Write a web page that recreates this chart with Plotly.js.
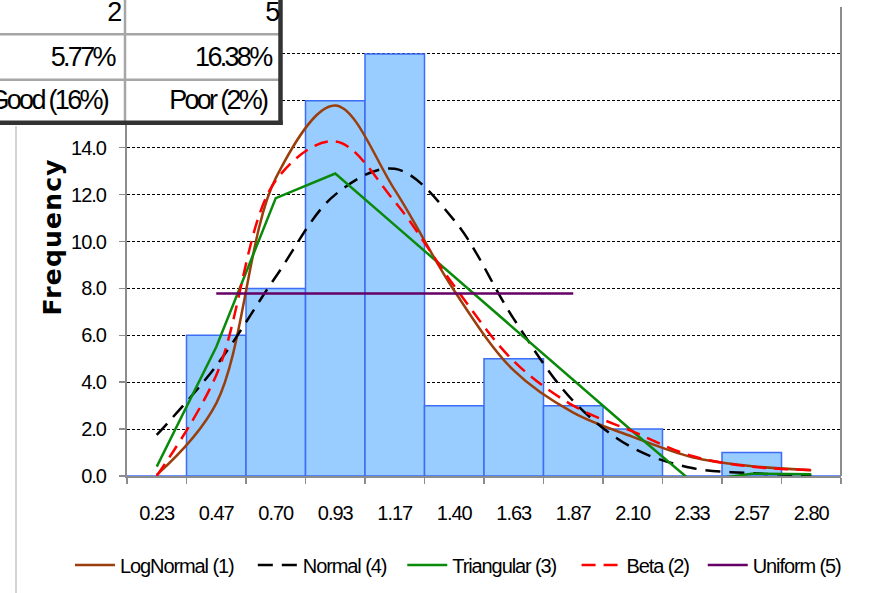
<!DOCTYPE html>
<html>
<head>
<meta charset="utf-8">
<script src="https://cdn.plot.ly/plotly-3.0.1.min.js"></script>
<style>
  html, body { margin: 0; padding: 0; background: #fff; }
  #chart { width: 888px; height: 593px; }
  #chart .xtick text, #chart .ytick text { letter-spacing: -1px; }
  #chart .legendtext { letter-spacing: -1.1px; }
  #chart .annotation text.annotation-text { letter-spacing: -2.7px; }
  #chart .annotation[data-index="0"] text.annotation-text { letter-spacing: 1.2px; }
</style>
</head>
<body>
<div id="chart"></div>
<script>
// ---- data ----
var categories = ['0.23','0.47','0.70','0.93','1.17','1.40','1.63','1.87','2.10','2.33','2.57','2.80'];
var frequency  = [0, 6, 8, 16, 18, 3, 5, 3, 2, 0, 1, 0];
var logNormal  = [0.05, 3.1, 12.7, 15.8, 12.2, 7.9, 4.5, 2.7, 1.67, 0.8, 0.42, 0.25];
var normal     = [1.75, 4.7, 8.5, 12.0, 13.1, 10.9, 6.7, 3.2, 1.2, 0.34, 0.12, 0.03];
var triangular = [0.4, 5.5, 11.85, 12.9, 10.7, 8.5, 6.3, 4.1, 1.9, -0.25, 0.1, 0.07];
var beta       = [0.0, 4.3, 12.6, 14.27, 11.7, 8.1, 4.9, 3.0, 1.9, 0.85, 0.4, 0.25];
var uniform    = [null, 7.78, 7.78, 7.78, 7.78, 7.78, 7.78, 7.78, null, null, null, null];

var seriesNames = ['LogNormal (1)', 'Normal (4)', 'Triangular (3)', 'Beta (2)', 'Uniform (5)'];
var tableRows = [['2', '5'], ['5.77%', '16.38%'], ['Good (16%)', 'Poor (2%)']];
var yTitle = 'Frequency';

// ---- layout helpers (pixel -> paper) ----
var W = 888, H = 593;
var mL = 127, mR = 47, mT = 7, mB = 117;
var pw = W - mL - mR, ph = H - mT - mB;
function px(x) { return (x - mL) / pw; }
function py(y) { return (H - mB - y) / ph; }

var sans = '"Liberation Sans", Arial, sans-serif';

var traces = [
  {type: 'bar', x: categories, y: frequency, showlegend: false,
   marker: {color: '#99CCFF', line: {color: '#3D6CF5', width: 1.5}}, hoverinfo: 'skip'},
  {type: 'scatter', mode: 'lines', x: categories, y: logNormal, name: seriesNames[0],
   line: {color: '#9A3F0C', width: 2.5, shape: 'spline', smoothing: 1}},
  {type: 'scatter', mode: 'lines', x: categories, y: normal, name: seriesNames[1],
   line: {color: '#000000', width: 2.5, shape: 'spline', smoothing: 1, dash: '15px,9px'}},
  {type: 'scatter', mode: 'lines', x: categories, y: triangular, name: seriesNames[2],
   line: {color: '#0A8A0A', width: 2.5}},
  {type: 'scatter', mode: 'lines', x: categories, y: beta, name: seriesNames[3],
   line: {color: '#FF0000', width: 2.5, shape: 'spline', smoothing: 1, dash: '14px,8px'}},
  {type: 'scatter', mode: 'lines', x: categories, y: uniform, name: seriesNames[4],
   line: {color: '#660066', width: 2.5}}
];

var shapes = [
  {type: 'line', xref: 'paper', yref: 'paper', x0: 1, x1: 1, y0: 0, y1: 1,
   line: {color: '#8c8c8c', width: 2}},
  {type: 'line', xref: 'paper', yref: 'paper', x0: px(16), x1: px(16), y0: py(126), y1: py(600),
   line: {color: '#c4c4c4', width: 1.5}},
  {type: 'rect', xref: 'paper', yref: 'paper', layer: 'above',
   x0: px(-10), x1: px(280), y0: py(122), y1: py(-10),
   fillcolor: '#ffffff', line: {width: 0}},
  {type: 'line', xref: 'paper', yref: 'paper', layer: 'above',
   x0: px(-5), x1: px(279), y0: py(34.3), y1: py(34.3), line: {color: '#a6a6a6', width: 2.5}},
  {type: 'line', xref: 'paper', yref: 'paper', layer: 'above',
   x0: px(-5), x1: px(279), y0: py(79.7), y1: py(79.7), line: {color: '#a6a6a6', width: 2.5}},
  {type: 'line', xref: 'paper', yref: 'paper', layer: 'above',
   x0: px(125), x1: px(125), y0: py(-5), y1: py(121), line: {color: '#a6a6a6', width: 2.5}},
  {type: 'line', xref: 'paper', yref: 'paper', layer: 'above',
   x0: px(280.5), x1: px(280.5), y0: py(-5), y1: py(125), line: {color: '#333333', width: 4.5}},
  {type: 'line', xref: 'paper', yref: 'paper', layer: 'above',
   x0: px(-5), x1: px(282.7), y0: py(122.8), y1: py(122.8), line: {color: '#333333', width: 4.5}}
];

var annotations = [
  {xref: 'paper', yref: 'paper', x: px(52), y: py(237), text: yTitle, textangle: -90,
   showarrow: false, xanchor: 'center', yanchor: 'middle',
   font: {family: '"DejaVu Sans", Verdana, sans-serif', size: 25, color: '#000', weight: 'bold'}}
];
var cellRight = [123, 281];
var cellMid = [10, 55, 98];
for (var r = 0; r < tableRows.length; r++) {
  for (var c = 0; c < 2; c++) {
    annotations.push({xref: 'paper', yref: 'paper', x: px(cellRight[c]), y: py(cellMid[r] + 2),
      text: tableRows[r][c], showarrow: false, xanchor: 'right', yanchor: 'middle',
      font: {family: sans, size: 27, color: '#000'}});
  }
}

var layout = {
  width: W, height: H,
  margin: {l: mL, r: mR, t: mT, b: mB, pad: 0, autoexpand: false},
  paper_bgcolor: '#ffffff', plot_bgcolor: '#ffffff',
  bargap: 0,
  showlegend: true,
  legend: {orientation: 'h', x: px(70), y: py(565), xanchor: 'left', yanchor: 'middle',
           itemwidth: 40,
           font: {family: sans, size: 20, color: '#000'}, bgcolor: 'rgba(0,0,0,0)'},
  xaxis: {type: 'category', tickson: 'boundaries', ticks: 'outside', ticklen: 6,
          tickcolor: '#8c8c8c', tickwidth: 1.5, showline: true, linecolor: '#8c8c8c', linewidth: 2,
          showgrid: false, zeroline: false, ticklabelstandoff: 18, automargin: false,
          tickfont: {family: sans, size: 20, color: '#000'}},
  yaxis: {range: [0, 20], dtick: 2, tick0: 0, tickformat: '.1f', ticks: 'outside', ticklen: 6,
          tickcolor: '#8c8c8c', tickwidth: 1.5, showline: true, linecolor: '#8c8c8c', linewidth: 2,
          showgrid: true, gridcolor: '#000000', gridwidth: 1, griddash: '3px,2px',
          zeroline: false, ticklabelstandoff: 9, automargin: false,
          tickfont: {family: sans, size: 20, color: '#000'}},
  shapes: shapes,
  annotations: annotations
};

Plotly.newPlot('chart', traces, layout, {displayModeBar: false, staticPlot: true});
</script>
</body>
</html>
